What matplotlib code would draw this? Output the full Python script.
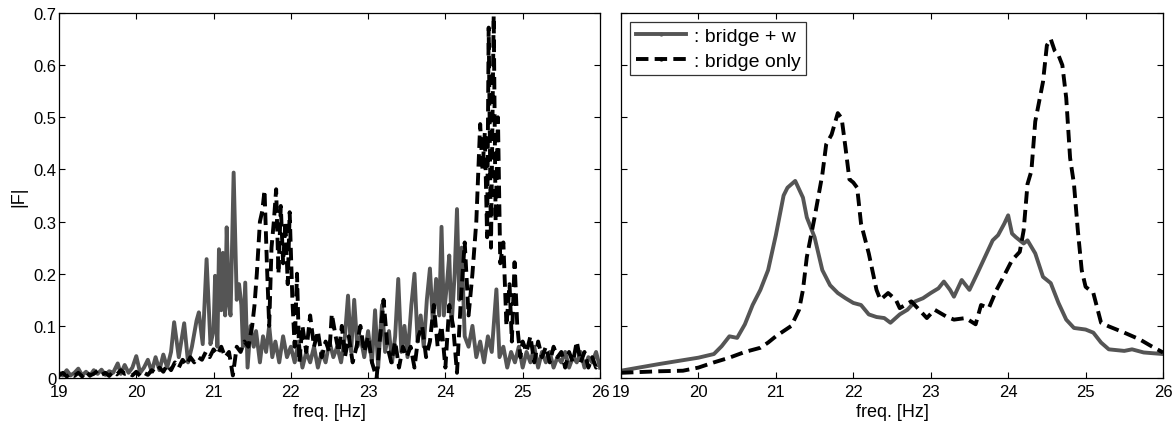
import matplotlib
matplotlib.use("Agg")
import matplotlib.pyplot as plt
from matplotlib.lines import Line2D

plt.rcParams['font.family'] = ['Liberation Sans', 'DejaVu Sans']

# left panel: raw spectra
left_w_f = [19.00, 19.05, 19.10, 19.15, 19.20, 19.25, 19.30, 19.35, 19.40, 19.45, 19.50, 19.55, 19.60, 19.65,
            19.70, 19.76, 19.80, 19.85, 19.90, 19.95, 20.00, 20.05, 20.10, 20.15, 20.20, 20.25, 20.30, 20.35,
            20.40, 20.45, 20.49, 20.55, 20.62, 20.67, 20.72, 20.78, 20.81, 20.86, 20.91, 20.96, 21.00, 21.02,
            21.05, 21.07, 21.10, 21.12, 21.15, 21.17, 21.20, 21.22, 21.26, 21.30, 21.33, 21.36, 21.38, 21.41,
            21.44, 21.48, 21.52, 21.55, 21.60, 21.64, 21.68, 21.72, 21.76, 21.80, 21.85, 21.90, 21.95, 22.00,
            22.05, 22.10, 22.15, 22.20, 22.25, 22.30, 22.35, 22.40, 22.45, 22.50, 22.55, 22.60, 22.65, 22.70,
            22.74, 22.78, 22.82, 22.86, 22.90, 22.95, 23.00, 23.05, 23.09, 23.13, 23.18, 23.22, 23.27, 23.31,
            23.35, 23.39, 23.43, 23.47, 23.51, 23.56, 23.60, 23.64, 23.68, 23.72, 23.76, 23.80, 23.84, 23.88,
            23.92, 23.95, 23.98, 24.02, 24.05, 24.08, 24.12, 24.15, 24.18, 24.21, 24.25, 24.30, 24.35, 24.40,
            24.45, 24.50, 24.55, 24.60, 24.66, 24.70, 24.75, 24.80, 24.85, 24.90, 24.95, 25.00, 25.05, 25.10,
            25.15, 25.20, 25.25, 25.30, 25.35, 25.40, 25.45, 25.50, 25.55, 25.60, 25.65, 25.70, 25.75, 25.80,
            25.85, 25.90, 25.95, 26.00]
left_w_v = [0.010, 0.005, 0.015, 0.005, 0.010, 0.018, 0.005, 0.012, 0.004, 0.015, 0.008, 0.016, 0.006, 0.013,
            0.010, 0.028, 0.008, 0.025, 0.010, 0.020, 0.042, 0.010, 0.020, 0.035, 0.012, 0.040, 0.015, 0.045,
            0.020, 0.050, 0.107, 0.040, 0.105, 0.030, 0.060, 0.110, 0.126, 0.065, 0.228, 0.065, 0.090, 0.196,
            0.060, 0.247, 0.130, 0.240, 0.120, 0.289, 0.140, 0.120, 0.394, 0.150, 0.180, 0.140, 0.060, 0.183,
            0.020, 0.100, 0.060, 0.090, 0.030, 0.080, 0.050, 0.100, 0.040, 0.070, 0.030, 0.080, 0.040, 0.060,
            0.030, 0.070, 0.020, 0.050, 0.030, 0.060, 0.020, 0.050, 0.030, 0.070, 0.040, 0.060, 0.030, 0.080,
            0.158, 0.050, 0.150, 0.060, 0.080, 0.040, 0.090, 0.030, 0.130, 0.020, 0.140, 0.050, 0.090, 0.030,
            0.080, 0.190, 0.050, 0.100, 0.040, 0.140, 0.200, 0.070, 0.120, 0.060, 0.150, 0.210, 0.100, 0.190,
            0.120, 0.290, 0.120, 0.180, 0.235, 0.100, 0.200, 0.324, 0.150, 0.250, 0.080, 0.060, 0.100, 0.040,
            0.070, 0.030, 0.080, 0.050, 0.170, 0.040, 0.060, 0.020, 0.050, 0.030, 0.060, 0.020, 0.050, 0.030,
            0.060, 0.020, 0.050, 0.030, 0.050, 0.020, 0.040, 0.030, 0.050, 0.020, 0.040, 0.030, 0.050, 0.020,
            0.040, 0.030, 0.050, 0.020]

left_b_f = [19.00, 19.05, 19.10, 19.15, 19.20, 19.25, 19.30, 19.35, 19.40, 19.45, 19.50, 19.55, 19.60, 19.65,
            19.70, 19.75, 19.80, 19.85, 19.90, 19.95, 20.00, 20.05, 20.10, 20.15, 20.20, 20.25, 20.30, 20.35,
            20.40, 20.45, 20.50, 20.55, 20.60, 20.65, 20.70, 20.75, 20.80, 20.85, 20.90, 20.95, 21.00, 21.05,
            21.10, 21.15, 21.20, 21.25, 21.30, 21.35, 21.40, 21.45, 21.50, 21.53, 21.56, 21.60, 21.63, 21.66,
            21.69, 21.72, 21.75, 21.78, 21.81, 21.84, 21.87, 21.90, 21.93, 21.96, 21.985, 22.02, 22.05, 22.08,
            22.11, 22.15, 22.20, 22.25, 22.30, 22.35, 22.40, 22.45, 22.50, 22.53, 22.58, 22.62, 22.66, 22.70,
            22.75, 22.80, 22.85, 22.90, 22.95, 23.00, 23.05, 23.11, 23.15, 23.20, 23.25, 23.30, 23.35, 23.40,
            23.45, 23.50, 23.55, 23.60, 23.65, 23.70, 23.75, 23.80, 23.85, 23.90, 23.95, 24.00, 24.05, 24.10,
            24.15, 24.20, 24.25, 24.30, 24.35, 24.40, 24.45, 24.48, 24.51, 24.54, 24.56, 24.59, 24.625, 24.65,
            24.68, 24.71, 24.75, 24.79, 24.83, 24.86, 24.895, 24.93, 24.97, 25.00, 25.05, 25.10, 25.15, 25.20,
            25.25, 25.30, 25.35, 25.40, 25.45, 25.50, 25.55, 25.60, 25.65, 25.70, 25.75, 25.80, 25.85, 25.90,
            25.95, 26.00]
left_b_v = [0.005, 0.010, 0.003, 0.008, 0.004, 0.010, 0.003, 0.012, 0.005, 0.008, 0.014, 0.006, 0.010, 0.004,
            0.012, 0.007, 0.015, 0.008, 0.010, 0.005, 0.012, 0.004, 0.010, 0.006, 0.015, 0.010, 0.020, 0.012,
            0.025, 0.015, 0.030, 0.020, 0.035, 0.025, 0.040, 0.030, 0.040, 0.035, 0.050, 0.040, 0.055, 0.045,
            0.060, 0.040, 0.050, 0.005, 0.060, 0.050, 0.070, 0.060, 0.100, 0.140, 0.200, 0.300, 0.320, 0.360,
            0.220, 0.100, 0.250, 0.300, 0.362, 0.200, 0.330, 0.220, 0.300, 0.180, 0.318, 0.150, 0.060, 0.200,
            0.030, 0.100, 0.050, 0.120, 0.060, 0.090, 0.040, 0.070, 0.050, 0.123, 0.080, 0.050, 0.100, 0.040,
            0.080, 0.030, 0.060, 0.100, 0.050, 0.080, 0.030, 0.000, 0.070, 0.150, 0.060, 0.030, 0.070, 0.020,
            0.060, 0.040, 0.060, 0.020, 0.080, 0.100, 0.040, 0.070, 0.140, 0.060, 0.100, 0.020, 0.140, 0.100,
            0.010, 0.150, 0.260, 0.120, 0.200, 0.300, 0.487, 0.400, 0.470, 0.270, 0.672, 0.250, 0.695, 0.300,
            0.500, 0.220, 0.260, 0.100, 0.180, 0.070, 0.222, 0.100, 0.040, 0.070, 0.050, 0.080, 0.030, 0.070,
            0.040, 0.060, 0.030, 0.060, 0.040, 0.050, 0.020, 0.050, 0.030, 0.070, 0.030, 0.050, 0.020, 0.040,
            0.020, 0.030]

# right panel: averaged spectra
right_w_f = [19.0, 19.5, 20.0, 20.2, 20.3, 20.4, 20.5, 20.6, 20.7, 20.8, 20.9, 21.0, 21.1, 21.15, 21.25,
             21.35, 21.4, 21.5, 21.6, 21.7, 21.8, 21.9, 22.0, 22.1, 22.2, 22.3, 22.4, 22.48, 22.6, 22.7,
             22.8, 22.9, 23.0, 23.1, 23.17, 23.25, 23.3, 23.4, 23.5, 23.6, 23.7, 23.8, 23.87, 23.95, 24.0,
             24.05, 24.1, 24.2, 24.25, 24.35, 24.45, 24.55, 24.65, 24.75, 24.85, 25.0, 25.1, 25.2, 25.3,
             25.5, 25.6, 25.75, 26.0]
right_w_v = [0.014, 0.027, 0.039, 0.046, 0.061, 0.080, 0.077, 0.103, 0.140, 0.169, 0.207, 0.274, 0.350, 0.365,
             0.378, 0.346, 0.308, 0.270, 0.207, 0.178, 0.163, 0.153, 0.144, 0.140, 0.122, 0.117, 0.115, 0.106,
             0.122, 0.131, 0.147, 0.153, 0.163, 0.172, 0.185, 0.169, 0.156, 0.188, 0.169, 0.200, 0.232, 0.264,
             0.274, 0.296, 0.312, 0.277, 0.270, 0.258, 0.264, 0.239, 0.194, 0.182, 0.144, 0.112, 0.096, 0.093,
             0.087, 0.068, 0.055, 0.052, 0.055, 0.049, 0.046]

right_b_f = [19.0, 19.5, 19.8, 20.0, 20.2, 20.4, 20.6, 20.8, 20.9, 21.0, 21.1, 21.2, 21.3, 21.35, 21.4, 21.5,
             21.6, 21.65, 21.72, 21.8, 21.85, 21.9, 21.95, 22.0, 22.05, 22.1, 22.2, 22.3, 22.35, 22.45, 22.55,
             22.6, 22.75, 22.85, 22.95, 23.05, 23.2, 23.3, 23.45, 23.58, 23.65, 23.75, 23.85, 23.95, 24.05,
             24.15, 24.2, 24.25, 24.3, 24.35, 24.4, 24.45, 24.5, 24.55, 24.6, 24.65, 24.7, 24.75, 24.8, 24.85,
             24.9, 24.95, 25.0, 25.1, 25.2, 25.3, 25.5, 25.7, 25.85, 26.0]
right_b_v = [0.010, 0.013, 0.014, 0.020, 0.030, 0.039, 0.050, 0.058, 0.068, 0.080, 0.090, 0.100, 0.131, 0.169,
             0.232, 0.308, 0.390, 0.448, 0.467, 0.508, 0.498, 0.441, 0.381, 0.375, 0.365, 0.296, 0.239, 0.169,
             0.150, 0.163, 0.150, 0.134, 0.147, 0.131, 0.115, 0.131, 0.118, 0.112, 0.115, 0.103, 0.140, 0.134,
             0.169, 0.197, 0.226, 0.242, 0.283, 0.372, 0.397, 0.492, 0.530, 0.568, 0.638, 0.650, 0.628, 0.619,
             0.600, 0.537, 0.422, 0.372, 0.283, 0.207, 0.175, 0.163, 0.106, 0.099, 0.087, 0.074, 0.061, 0.049]

gray = '#555555'
dash = (3.2, 1.6)
lw = 2.8
xticks = [19, 20, 21, 22, 23, 24, 25, 26]
yticks = [0, 0.1, 0.2, 0.3, 0.4, 0.5, 0.6, 0.7]

fig = plt.figure(figsize=(11.75, 4.31), dpi=100)
ax1 = fig.add_axes([0.0502, 0.1206, 0.4604, 0.8469])
ax2 = fig.add_axes([0.5285, 0.1206, 0.4613, 0.8469])

ax1.plot(left_w_f, left_w_v, color=gray, lw=lw)
ax1.plot(left_b_f, left_b_v, color='black', lw=lw, dashes=dash)
ax2.plot(right_w_f, right_w_v, color=gray, lw=lw)
ax2.plot(right_b_f, right_b_v, color='black', lw=lw, dashes=dash)

for ax in (ax1, ax2):
    ax.set_xlim(19, 26)
    ax.set_ylim(0, 0.7)
    ax.set_xticks(xticks)
    ax.set_yticks(yticks)
    ax.tick_params(direction='in', top=True, right=True, length=4, labelsize=12)
    ax.tick_params(axis='x', pad=4)
    ax.tick_params(axis='y', pad=2)
    ax.set_xlabel('freq. [Hz]', fontsize=13, labelpad=3)
    for s in ax.spines.values():
        s.set_linewidth(0.9)

ax1.set_yticklabels(['0', '0.1', '0.2', '0.3', '0.4', '0.5', '0.6', '0.7'])
ax1.set_ylabel('|F|', fontsize=13, labelpad=4)
ax2.set_yticklabels([])

handles = [Line2D([], [], color=gray, lw=lw, marker='.', markersize=4),
           Line2D([], [], color='black', lw=lw, dashes=dash, marker='.', markersize=4)]
leg = ax2.legend(handles, [': bridge + w', ': bridge only'], loc='upper left', fontsize=14,
                 frameon=True, fancybox=False, edgecolor='black', handlelength=2.6,
                 borderaxespad=0.45, borderpad=0.3, labelspacing=0.35, handletextpad=0.4)
leg.get_frame().set_linewidth(0.9)

fig.savefig('out.png', dpi=100)
